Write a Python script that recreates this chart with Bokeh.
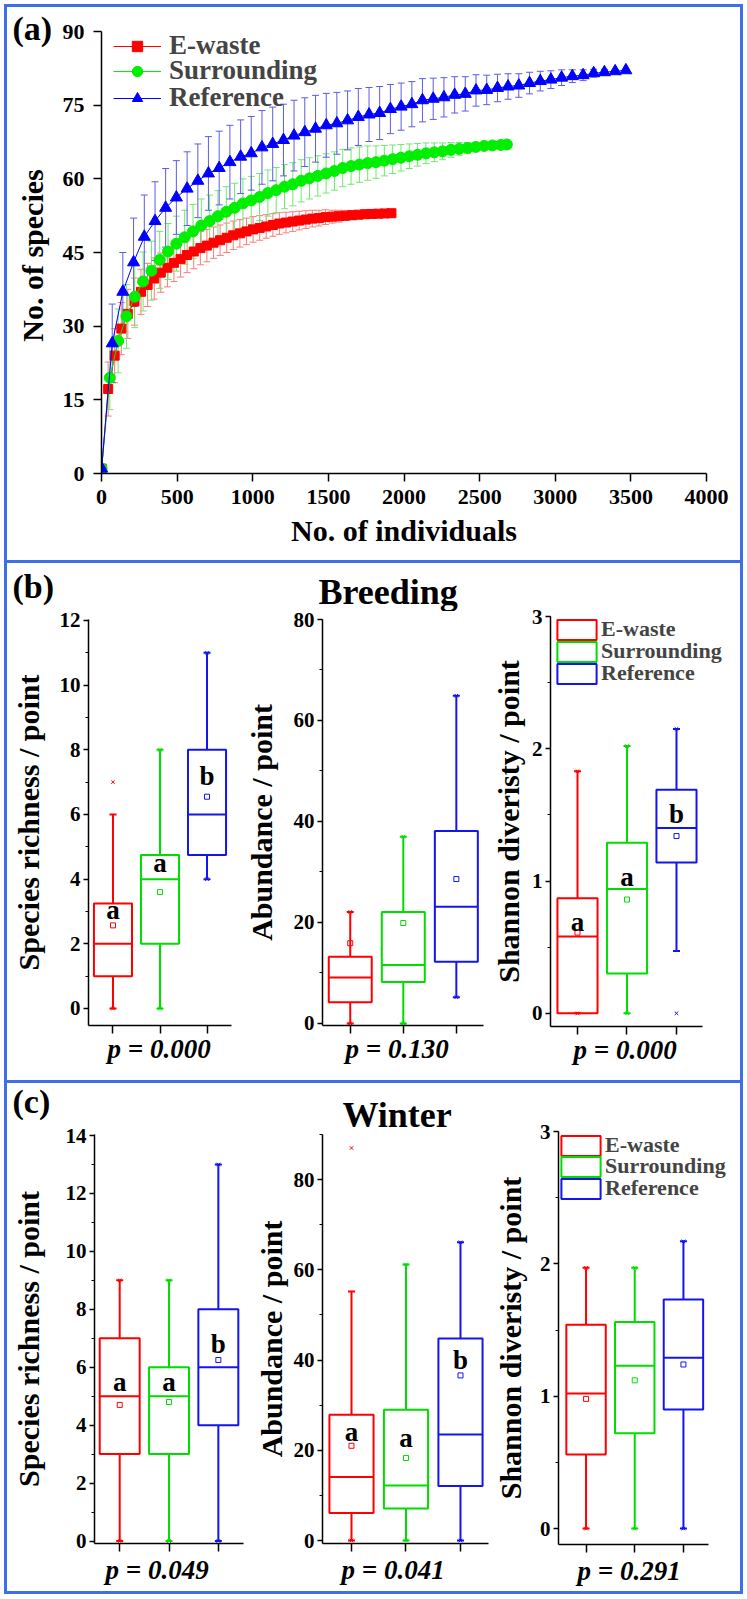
import math
from bokeh.plotting import figure
from bokeh.models import (ColumnDataSource, Range1d, SingleIntervalTicker, FixedTicker,
                          Whisker, TeeHead, Legend, LegendItem, Title)
from bokeh.layouts import column, row
from bokeh.transform import dodge
from bokeh.core.properties import value
from bokeh.embed import file_html
from bokeh.resources import INLINE

FONT = "Liberation Serif"
RED, GREEN, BLUE = "#FF0000", "#00EE00", "#0000FF"
ERR_RED, ERR_GREEN, ERR_BLUE = "#FF7A7A", "#6EEA6E", "#5C5CE6"
BORDER = "#3D6FE8"

# ---------------- (a) rarefaction curves ----------------
ewaste_n = [1, 44, 87, 131, 174, 218, 261, 305, 349, 392, 436, 479, 523, 566, 610, 654, 697, 741, 784, 828,
            871, 915, 959, 1002, 1046, 1089, 1133, 1176, 1220, 1264, 1307, 1351, 1394, 1438, 1481, 1525,
            1569, 1612, 1656, 1699, 1743, 1786, 1830, 1874, 1917]
ewaste_sp = [1, 17.2, 24.0, 29.5, 32.5, 35.0, 37.0, 38.4, 39.7, 40.9, 41.9, 42.9, 43.7, 44.5, 45.2, 45.9,
             46.4, 47.0, 47.5, 48.0, 48.5, 48.9, 49.3, 49.7, 50.0, 50.3, 50.6, 50.9, 51.1, 51.3, 51.5, 51.7,
             51.9, 52.0, 52.2, 52.3, 52.4, 52.5, 52.6, 52.7, 52.8, 52.85, 52.9, 52.95, 53.0]
ewaste_sd = [0, 5.5, 5.5, 5.3, 5.0, 4.8, 4.6, 4.4, 4.2, 4.0, 3.9, 3.8, 3.7, 3.6, 3.5, 3.4, 3.3, 3.2, 3.1, 3.0,
             2.9, 2.8, 2.7, 2.6, 2.5, 2.4, 2.3, 2.2, 2.1, 2.0, 1.9, 1.8, 1.7, 1.6, 1.5, 1.3, 1.2, 1.0, 0.9,
             0.7, 0.6, 0.4, 0.3, 0.1, 0.0]

surr_n = [1, 55, 110, 165, 220, 275, 330, 385, 440, 495, 550, 605, 660, 715, 770, 825, 880, 935, 990, 1045,
          1100, 1155, 1210, 1265, 1320, 1375, 1430, 1485, 1540, 1595, 1650, 1705, 1760, 1815, 1870, 1925,
          1980, 2035, 2090, 2145, 2200, 2255, 2310, 2365, 2420, 2475, 2530, 2585, 2640, 2680]
surr_sp = [1, 19.5, 27.0, 32.0, 36.0, 39.1, 41.3, 43.5, 45.2, 46.8, 48.1, 49.3, 50.5, 51.4, 52.4, 53.3, 54.1,
           55.0, 55.6, 56.3, 57.1, 57.7, 58.4, 58.9, 59.6, 60.1, 60.6, 61.1, 61.6, 62.2, 62.6, 62.9, 63.2,
           63.4, 63.7, 64.0, 64.3, 64.6, 64.9, 65.2, 65.4, 65.6, 65.9, 66.1, 66.3, 66.5, 66.7, 66.8, 66.9, 67.0]
surr_sd = [0, 6.5, 6.5, 6.5, 6.3, 6.0, 6.0, 5.8, 5.7, 5.6, 5.5, 5.5, 5.4, 5.3, 5.2, 5.1, 5.0, 5.0, 4.9, 4.8,
           4.7, 4.6, 4.5, 4.4, 4.3, 4.2, 4.1, 4.0, 3.9, 3.8, 3.7, 3.6, 3.5, 3.3, 3.1, 2.9, 2.7, 2.5, 2.3,
           2.1, 1.9, 1.7, 1.5, 1.3, 1.1, 0.9, 0.7, 0.5, 0.3, 0.0]

ref_n = [1, 71, 141, 212, 283, 354, 424, 495, 566, 637, 707, 778, 849, 920, 990, 1061, 1132, 1203, 1273,
         1344, 1415, 1486, 1556, 1627, 1698, 1769, 1839, 1910, 1981, 2052, 2122, 2193, 2264, 2335, 2405,
         2476, 2547, 2618, 2688, 2759, 2830, 2901, 2971, 3042, 3113, 3184, 3254, 3325, 3396, 3467]
ref_sp = [1, 26.5, 37.0, 43.0, 48.2, 51.4, 54.1, 56.2, 58.0, 59.6, 61.1, 62.2, 63.4, 64.5, 65.2, 66.4, 67.1,
          67.9, 68.8, 69.5, 70.2, 70.9, 71.3, 71.9, 72.6, 73.1, 73.4, 74.2, 74.7, 75.2, 76.0, 76.3, 76.6,
          77.1, 77.3, 78.0, 78.1, 78.5, 78.8, 79.0, 79.5, 79.9, 80.2, 80.6, 80.9, 81.1, 81.5, 81.7, 81.9, 82.1]
ref_sd = [0, 8.0, 8.0, 9.0, 8.5, 8.0, 8.0, 7.5, 7.5, 7.5, 7.5, 7.5, 7.5, 7.5, 7.5, 7.5, 7.5, 7.3, 7.2, 7.0,
          6.8, 6.5, 6.3, 6.0, 5.8, 5.5, 5.4, 5.0, 4.8, 4.6, 4.4, 4.2, 4.0, 3.7, 3.5, 3.2, 3.0, 2.8, 2.6,
          2.4, 2.2, 2.0, 1.8, 1.6, 1.3, 1.1, 0.8, 0.6, 0.3, 0.0]

groups = ["E-waste", "Surrounding", "Reference"]

# ---------------- (b) Breeding ----------------
br_rich_lo = [0, 0, 4]
br_rich_q1 = [1, 2, 4.75]
br_rich_med = [2, 4, 6]
br_rich_q3 = [3.25, 4.75, 8]
br_rich_hi = [6, 8, 11]
br_rich_mean = [2.57, 3.6, 6.55]
br_rich_min = [0, 0, 4]
br_rich_max = [7, 8, 11]
br_rich_letters = ["a", "a", "b"]
br_rich_letter_y = [3.05, 4.5, 7.2]

br_abun_lo = [0, 0, 5.2]
br_abun_q1 = [4.2, 8.2, 12.2]
br_abun_med = [9.1, 11.6, 23.1]
br_abun_q3 = [13.2, 22.1, 38.1]
br_abun_hi = [22.1, 37, 64.9]
br_abun_mean = [15.9, 19.9, 28.6]
br_abun_min = [0, 0, 5.2]
br_abun_max = [22.1, 37, 64.9]

br_shan_lo = [0, 0, 0.47]
br_shan_q1 = [0, 0.30, 1.14]
br_shan_med = [0.58, 0.94, 1.40]
br_shan_q3 = [0.87, 1.29, 1.69]
br_shan_hi = [1.83, 2.02, 2.15]
br_shan_mean = [0.61, 0.86, 1.34]
br_shan_min = [0, 0, 0]
br_shan_max = [1.83, 2.02, 2.15]
br_shan_letters = ["a", "a", "b"]
br_shan_letter_y = [0.69, 1.03, 1.51]

br_p = ["p = 0.000", "p = 0.130", "p = 0.000"]

# ---------------- (c) Winter ----------------
wi_rich_lo = [0, 0, 0]
wi_rich_q1 = [3, 3, 4]
wi_rich_med = [5, 5, 6]
wi_rich_q3 = [7, 6, 8]
wi_rich_hi = [9, 9, 13]
wi_rich_mean = [4.7, 4.8, 6.25]
wi_rich_min = [0, 0, 0]
wi_rich_max = [9, 9, 13]
wi_rich_letters = ["a", "a", "b"]
wi_rich_letter_y = [5.5, 5.5, 6.8]

wi_abun_lo = [0, 0, 0]
wi_abun_q1 = [6.1, 7.1, 12.1]
wi_abun_med = [14.1, 12.2, 23.5]
wi_abun_q3 = [27.9, 29.0, 44.8]
wi_abun_hi = [55.2, 61.2, 66.1]
wi_abun_mean = [21.0, 18.3, 36.6]
wi_abun_min = [0, 0, 0]
wi_abun_max = [87, 61.2, 66.1]
wi_abun_letters = ["a", "a", "b"]
wi_abun_letter_y = [24.1, 22.8, 40.0]

wi_shan_lo = [0, 0, 0]
wi_shan_q1 = [0.56, 0.72, 0.90]
wi_shan_med = [1.02, 1.23, 1.29]
wi_shan_q3 = [1.54, 1.56, 1.73]
wi_shan_hi = [1.97, 1.97, 2.17]
wi_shan_mean = [0.98, 1.12, 1.24]
wi_shan_min = [0, 0, 0]
wi_shan_max = [1.97, 1.97, 2.17]

wi_p = ["p = 0.049", "p = 0.041", "p = 0.291"]

BOX_COLORS = [RED, "#00DD00", "#1414F0"]
grp_x = [i + 1 for i in range(len(groups))]   # category slots on the x scale


def style_common(p):
    p.outline_line_color = None
    p.xgrid.visible = False
    p.ygrid.visible = False
    p.background_fill_color = "white"
    p.border_fill_color = "white"
    for ax in p.axis:
        ax.axis_line_color = "black"
        ax.axis_line_width = 1.5
        ax.major_tick_line_color = "black"
        ax.major_tick_line_width = 1.5
        ax.minor_tick_line_color = "black"
        ax.minor_tick_line_width = 1.2
        ax.major_tick_in = 0
        ax.minor_tick_in = 0
        ax.major_label_text_font = FONT
        ax.major_label_text_font_style = "bold"
        ax.major_label_text_color = "black"
        ax.axis_label_text_font = FONT
        ax.axis_label_text_font_style = "bold"
        ax.axis_label_text_color = "black"


def text_canvas(width, height, items, top=0, bottom=0):
    """A figure with no axes, used only to hold panel titles."""
    fh = height - top - bottom
    p = figure(width=width, height=height, x_range=Range1d(0, width), y_range=Range1d(0, fh),
               x_axis_type=None, y_axis_type=None, min_border=0, min_border_top=top,
               min_border_bottom=bottom, toolbar_location=None,
               output_backend="svg", outline_line_color=None)
    p.background_fill_color = "white"
    p.border_fill_color = "white"
    for (x, y, txt, size, angle, align) in items:
        p.text(x=[x], y=[y], text=[txt], angle=angle, text_font=value(FONT), text_font_style="bold",
               text_font_size=size, text_align=align, text_baseline="middle", text_color="black")
    return p


# ================= Panel (a) =================
H_A = 553
# frame of both figures spans page y 7..473 (same top/bottom borders)
fa0 = text_canvas(52, H_A, [
    (5, 473 - 27.5, "(a)", "34px", 0, "left"),
    (25, 473 - 255, "No. of species", "30px", math.pi / 2, "center"),
], top=0, bottom=87)

fa = figure(width=681, height=H_A, x_range=Range1d(0, 4000), y_range=Range1d(0, 94.887),
            output_backend="svg", toolbar_location=None,
            min_border_left=40, min_border_right=34, min_border_top=0, min_border_bottom=87)
style_common(fa)
fa.xaxis.ticker = SingleIntervalTicker(interval=500, num_minor_ticks=0)
fa.yaxis.ticker = SingleIntervalTicker(interval=15, num_minor_ticks=0)
fa.yaxis.bounds = (0, 90)
for ax in fa.axis:
    ax.major_tick_out = 8
    ax.major_label_text_font_size = "22px"
    ax.axis_label_text_font_size = "30px"
fa.xaxis.major_label_standoff = 8
fa.yaxis.major_label_standoff = 9
fa.xaxis.axis_label = "No. of individuals"
fa.xaxis.axis_label_standoff = 7

curves = [
    ("E-waste", ewaste_n, ewaste_sp, ewaste_sd, RED, ERR_RED, "square", 9),
    ("Surrounding", surr_n, surr_sp, surr_sd, GREEN, ERR_GREEN, "circle", 11),
    ("Reference", ref_n, ref_sp, ref_sd, BLUE, ERR_BLUE, "triangle", 12),
]
legend_vy = [412, 387, 360]
for (name, n, sp, sd, col, ecol, mk, sz), vy in zip(curves, legend_vy):
    src = ColumnDataSource(dict(n=n, sp=sp, up=[a + b for a, b in zip(sp, sd)],
                                lo=[a - b for a, b in zip(sp, sd)]))
    w = Whisker(source=src, base="n", upper="up", lower="lo", dimension="height",
                line_color=ecol, line_width=1, level="underlay",
                upper_head=TeeHead(size=7, line_color=ecol, line_width=1),
                lower_head=TeeHead(size=7, line_color=ecol, line_width=1))
    fa.add_layout(w)
    lr = fa.line(x="n", y="sp", source=src, line_color=col, line_width=1)
    sr = fa.scatter(x="n", y="sp", source=src, marker=mk, size=sz, fill_color=col, line_color=col)
    leg = Legend(items=[LegendItem(label=value(name), renderers=[lr, sr])], location=(12, vy),
                 background_fill_alpha=0, border_line_color=None, padding=0, margin=0, spacing=0,
                 glyph_width=48, glyph_height=26, label_height=26, label_standoff=8,
                 label_text_font=FONT, label_text_font_style="bold", label_text_font_size="27px")
    fa.add_layout(leg)


# ================= Box plot helpers =================
def box_fig(width, height, left, right, top, bottom, xr, xbounds, yr, interval, ylabel, ylab_standoff,
            ptext, p_offset, p_standoff):
    p = figure(width=width, height=height, x_range=Range1d(*xr), y_range=Range1d(*yr),
               output_backend="svg", toolbar_location=None,
               min_border_left=left, min_border_right=right, min_border_top=top, min_border_bottom=bottom)
    style_common(p)
    p.yaxis.ticker = SingleIntervalTicker(interval=interval, num_minor_ticks=2)
    p.yaxis.major_tick_out = 5
    p.yaxis.minor_tick_out = 3
    p.yaxis.major_label_standoff = 3
    p.yaxis.major_label_text_font_size = "21px"
    p.yaxis.axis_label = ylabel
    p.yaxis.axis_label_text_font_size = "30px"
    p.yaxis.axis_label_standoff = int(ylab_standoff)
    p.xaxis.ticker = FixedTicker(ticks=grp_x)
    p.xaxis.bounds = xbounds
    p.xaxis.major_tick_out = 8
    p.xaxis.major_label_overrides = {x: "" for x in grp_x}
    p.xaxis.major_label_text_font_size = "0px"
    p.xaxis.major_label_standoff = 0
    p.add_layout(Title(text=ptext, align="left", offset=p_offset, standoff=int(p_standoff),
                       vertical_align="top", text_font=FONT, text_font_size="27px",
                       text_font_style="bold italic", text_color="black"), "below")
    return p


def boxplot(p, lo, q1, med, q3, hi, mean, mn, mx, letters=None, letter_y=None):
    src = ColumnDataSource(dict(gx=grp_x, grp=groups, lo=lo, q1=q1, med=med, q3=q3, hi=hi, mean=mean,
                                mn=mn, mx=mx, col=BOX_COLORS))
    colf = dict(field="col")
    p.segment(x0="gx", y0="q3", x1="gx", y1="hi", line_color=colf, line_width=2, source=src)
    p.segment(x0="gx", y0="q1", x1="gx", y1="lo", line_color=colf, line_width=2, source=src)
    p.scatter(x="gx", y="hi", marker="dash", size=7, line_color=colf, line_width=2, source=src)
    p.scatter(x="gx", y="lo", marker="dash", size=7, line_color=colf, line_width=2, source=src)
    box = p.vbar(x="gx", bottom="q1", top="q3", width=0.81, fill_color=None, line_color=colf,
                 line_width=2, source=src)
    p.segment(x0=dodge("gx", -0.405), y0="med", x1=dodge("gx", 0.405), y1="med",
              line_color=colf, line_width=2, source=src)
    p.scatter(x="gx", y="mean", marker="square", size=5, fill_color=None, line_color=colf,
              line_width=1, source=src)
    p.scatter(x="gx", y="mn", marker="x", size=5, line_color=colf, line_width=1, source=src)
    p.scatter(x="gx", y="mx", marker="x", size=5, line_color=colf, line_width=1, source=src)
    if letters is not None:
        lsrc = ColumnDataSource(dict(gx=grp_x, ly=letter_y, lt=letters))
        p.text(x="gx", y="ly", text="lt", source=lsrc, text_font=value(FONT), text_font_style="bold",
               text_font_size="27px", text_align="center", text_baseline="middle", text_color="black")
    return box


def add_box_legend(p, box, vx, vys):
    for i, (name, vy) in enumerate(zip(groups, vys)):
        leg = Legend(items=[LegendItem(label=value(name), renderers=[box], index=i)], location=(vx, vy),
                     background_fill_alpha=0, border_line_color=None, padding=0, margin=0, spacing=0,
                     glyph_width=49, glyph_height=25, label_height=25, label_standoff=0,
                     label_text_font=FONT, label_text_font_style="bold", label_text_font_size="22px")
        p.add_layout(leg)


# ================= Panel (b) Breeding =================
HB_HEAD, HB_ALL = 48, 517
hb = text_canvas(481, HB_HEAD, [
    (5, HB_HEAD - 22.5, "(b)", "34px", 0, "left"),
    (311, HB_HEAD - 28.5, "Breeding", "36px", 0, "left"),
])
HB_LOW = HB_ALL - HB_HEAD
b1 = box_fig(234, HB_LOW, 81, 10, 8, 55, (0.479, 3.521), (0.479, 3.521), (-0.526, 12.03), 2,
             "Species richness / point", 12, br_p[0], 19, 0)
boxplot(b1, br_rich_lo, br_rich_q1, br_rich_med, br_rich_q3, br_rich_hi, br_rich_mean,
        br_rich_min, br_rich_max, br_rich_letters, br_rich_letter_y)

b2 = box_fig(247, HB_LOW, 76, 5, 8, 55, (0.477, 3.512), (0.477, 3.503), (-0.4, 80), 20,
             "Abundance / point", 13, br_p[1], 23, 0)
boxplot(b2, br_abun_lo, br_abun_q1, br_abun_med, br_abun_q3, br_abun_hi, br_abun_mean,
        br_abun_min, br_abun_max)

b3 = box_fig(252, HB_ALL, 62, 2, 53, 54, (0.4545, 4.253), (0.4545, 3.525), (-0.1, 3), 1,
             "Shannon diveristy / point", 4, br_p[2], 23, 0)
bx = boxplot(b3, br_shan_lo, br_shan_q1, br_shan_med, br_shan_q3, br_shan_hi, br_shan_mean,
             br_shan_min, br_shan_max, br_shan_letters, br_shan_letter_y)
add_box_legend(b3, bx, 2, [384, 362, 340])

# ================= Panel (c) Winter =================
HC_HEAD, HC_ALL = 45, 508
hc = text_canvas(483, HC_HEAD, [
    (5, HC_HEAD - 17.5, "(c)", "34px", 0, "left"),
    (335, HC_HEAD - 31.5, "Winter", "36px", 0, "left"),
])
HC_LOW = HC_ALL - HC_HEAD
c1 = box_fig(240, HC_LOW, 87, 4, 6, 48, (0.489, 3.51), (0.489, 3.51), (-0.086, 14.035), 2,
             "Species richness / point", 18, wi_p[0], 11, 6)
boxplot(c1, wi_rich_lo, wi_rich_q1, wi_rich_med, wi_rich_q3, wi_rich_hi, wi_rich_mean,
        wi_rich_min, wi_rich_max, wi_rich_letters, wi_rich_letter_y)

c2 = box_fig(243, HC_LOW, 75, 2, 6, 48, (0.468, 3.514), (0.468, 3.514), (-0.66, 90), 20,
             "Abundance / point", 3, wi_p[1], 19, 6)
boxplot(c2, wi_abun_lo, wi_abun_q1, wi_abun_med, wi_abun_q3, wi_abun_hi, wi_abun_mean,
        wi_abun_min, wi_abun_max, wi_abun_letters, wi_abun_letter_y)

c3 = box_fig(250, HC_ALL, 65, 2, 48, 47, (0.434, 4.131), (0.434, 3.505), (-0.12, 3), 1,
             "Shannon diveristy / point", 10, wi_p[2], 19, 6)
cx = boxplot(c3, wi_shan_lo, wi_shan_q1, wi_shan_med, wi_shan_q3, wi_shan_hi, wi_shan_mean,
             wi_shan_min, wi_shan_max)
add_box_legend(c3, cx, -2, [386, 365, 343])

bstyle = "3px solid " + BORDER
panel_a = row(fa0, fa, styles={"border": bstyle})
panel_b = row(column(hb, row(b1, b2)), b3,
              styles={"border-left": bstyle, "border-right": bstyle, "border-bottom": bstyle})
panel_c = row(column(hc, row(c1, c2)), c3,
              styles={"border-left": bstyle, "border-right": bstyle, "border-bottom": bstyle})
page = column(panel_a, panel_b, panel_c, styles={"margin-left": "4px", "margin-top": "4px"})

open("out.html", "w").write(file_html(page, INLINE, title="Rarefaction and diversity"))
